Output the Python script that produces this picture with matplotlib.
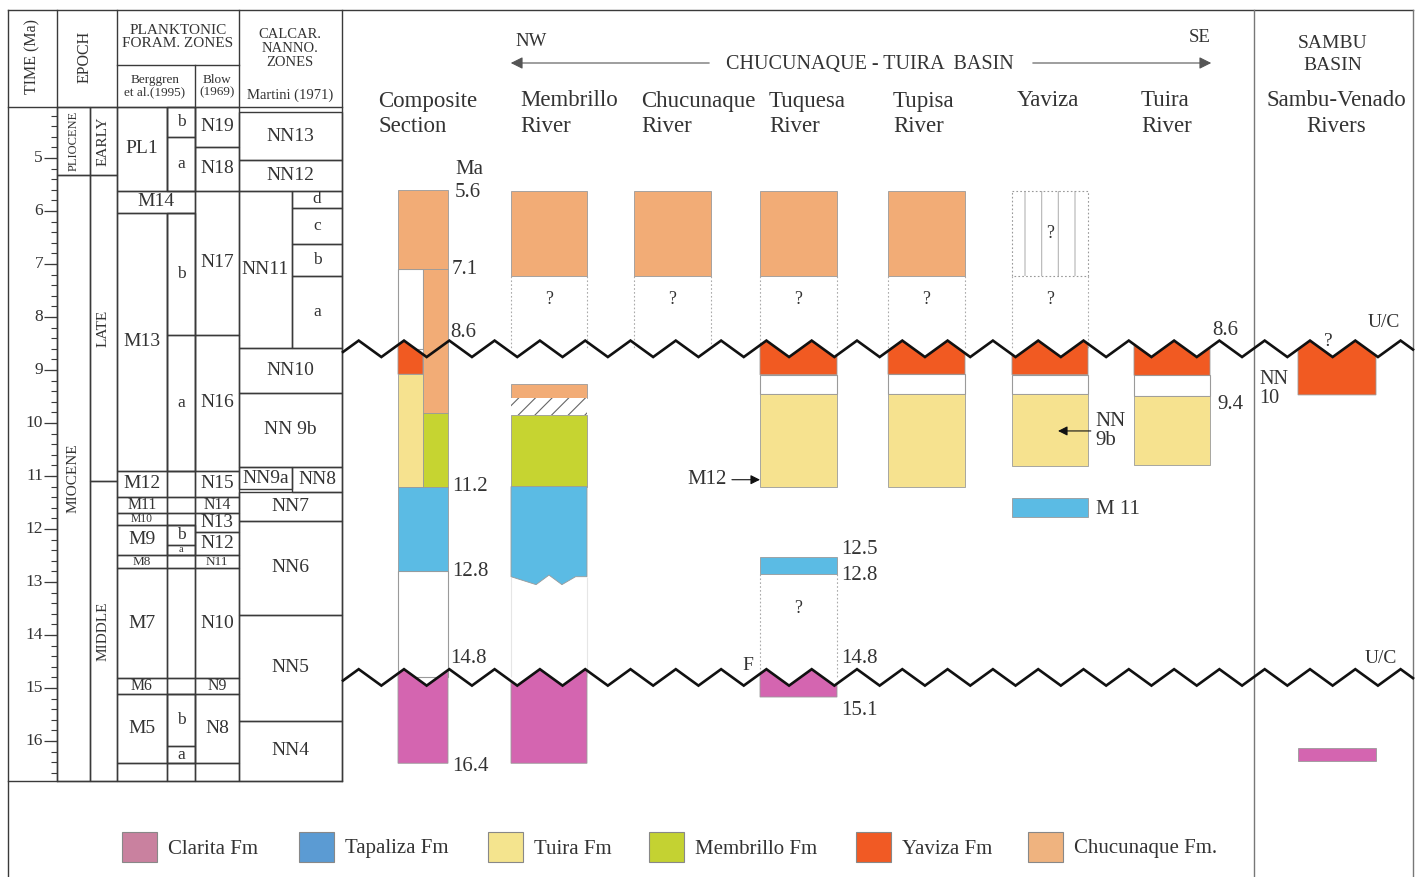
import numpy as np
import matplotlib.pyplot as plt
from matplotlib.patches import Rectangle

plt.rcParams["font.family"] = ["Liberation Serif", "DejaVu Serif"]
plt.rcParams["hatch.linewidth"] = 0.8

FIG_W, FIG_H = 1420, 877
ROW_5MA = 158        # pixel row of 5 Ma on the time scale
PX_PER_MA = 53

TEXT = "#333333"
LINE = "#3a3a3a"
THIN = "#9a9a9a"

# ---------------- left chronostratigraphic table (ages in Ma) ----------------
TIME_LABELS = [5, 6, 7, 8, 9, 10, 11, 12, 13, 14, 15, 16]
TABLE_TOP = 4.04
TABLE_BASE = 16.75

EPOCHS = ["PLIOCENE", "MIOCENE"]
EPOCH_TOP = [4.04, 5.33]
EPOCH_BASE = [5.33, 16.75]

SUBEPOCHS = ["EARLY", "LATE", "MIDDLE"]
SUBEPOCH_TOP = [4.04, 5.33, 11.1]
SUBEPOCH_BASE = [5.33, 11.1, 16.75]

BERGGREN = ["PL1", "M14", "M13", "M12", "M11", "M10", "M9", "M8", "M7", "M6", "M5", ""]
BERGGREN_TOP = [4.04, 5.62, 6.04, 10.9, 11.4, 11.7, 11.92, 12.49, 12.74, 14.81, 15.11, 16.42]
BERGGREN_WIDE = ["M14"]
BERGGREN_SUB = ["b", "a", "b", "a", "b", "a", "b", "a"]
BERGGREN_SUB_TOP = [4.04, 4.6, 6.04, 8.34, 11.92, 12.3, 15.11, 16.09]
BERGGREN_SUB_BASE = [4.6, 5.62, 8.34, 10.9, 12.3, 12.49, 16.09, 16.42]

BLOW = ["N19", "N18", "N17", "N16", "N15", "N14", "N13", "N12", "N11", "N10", "N9", "N8", ""]
BLOW_TOP = [4.04, 4.79, 5.62, 8.34, 10.9, 11.4, 11.7, 12.06, 12.49, 12.74, 14.81, 15.11, 16.42]

NANNO = ["NN13", "NN12", "NN11", "NN10", "NN 9b", "NN9a", "NN8", "NN7", "NN6", "NN5", "NN4"]
NANNO_TOP = [4.13, 5.04, 5.62, 8.58, 9.43, 10.83, 10.83, 11.3, 11.85, 13.62, 15.62]
NANNO_BASE = [5.04, 5.62, 8.58, 9.43, 10.83, 11.25, 11.3, 11.85, 13.62, 15.62, 16.75]
NANNO_PART = ["", "", "left", "", "", "left", "right", "", "", "", ""]
NN11_SUB = ["d", "c", "b", "a"]
NN11_SUB_TOP = [5.62, 5.94, 6.62, 7.23]
NN11_SUB_BASE = [5.94, 6.62, 7.23, 8.58]

# ---------------- stratigraphic sections (formation, top Ma, base Ma[, option]) ----------------
FORMATIONS = ["Clarita", "Tapaliza", "Tuira", "Membrillo", "Yaviza", "Chucunaque"]
LEGEND_LABELS = ["Clarita Fm", "Tapaliza Fm", "Tuira Fm", "Membrillo Fm", "Yaviza Fm", "Chucunaque Fm."]
FM_COLORS = ["#d465b0", "#5bbbe4", "#f6e28f", "#c6d431", "#f15a22", "#f2ac76"]
LEGEND_COLORS = ["#c9819f", "#5b9bd3", "#f4e48e", "#c4d232", "#f15a24", "#efb37f"]

UNCONFORMITIES = [8.6, 14.8]

SECTIONS = ["Composite\nSection", "Membrillo\nRiver", "Chucunaque\nRiver", "Tuquesa\nRiver",
            "Tupisa\nRiver", "Yaviza", "Tuira\nRiver", "Sambu-Venado\nRivers"]

COMPOSITE = [("Chucunaque", 5.6, 7.1), ("gap", 7.1, 8.6, "left"), ("Chucunaque", 7.1, 9.82, "right"),
             ("Yaviza", 8.6, 9.08, "left"), ("Tuira", 9.08, 11.2, "left"),
             ("Membrillo", 9.82, 11.2, "right"), ("Tapaliza", 11.2, 12.8), ("gap", 12.8, 14.8),
             ("Clarita", 14.8, 16.42)]
MEMBRILLO = [("Chucunaque", 5.62, 7.22), ("unknown", 7.22, 8.6), ("Chucunaque", 9.26, 9.52),
             ("hatch", 9.52, 9.85), ("Membrillo", 9.85, 11.2), ("Tapaliza", 11.2, 12.9, "torn"),
             ("faint", 12.9, 14.8), ("Clarita", 14.8, 16.42)]
CHUCUNAQUE = [("Chucunaque", 5.62, 7.22), ("unknown", 7.22, 8.6)]
TUQUESA = [("Chucunaque", 5.62, 7.22), ("unknown", 7.22, 8.6), ("Yaviza", 8.6, 9.09),
           ("gap", 9.09, 9.45), ("Tuira", 9.45, 11.2), ("Tapaliza", 12.53, 12.85),
           ("unknown", 12.85, 14.8), ("Clarita", 14.8, 15.17)]
TUPISA = [("Chucunaque", 5.62, 7.22), ("unknown", 7.22, 8.6), ("Yaviza", 8.6, 9.08),
          ("gap", 9.08, 9.45), ("Tuira", 9.45, 11.2)]
YAVIZA = [("hatched", 5.62, 7.22), ("unknown", 7.22, 8.6), ("Yaviza", 8.6, 9.09),
          ("gap", 9.09, 9.45), ("Tuira", 9.45, 10.82), ("Tapaliza", 11.42, 11.77)]
TUIRA = [("Yaviza", 8.6, 9.1), ("gap", 9.1, 9.49), ("Tuira", 9.49, 10.79)]
SAMBU = [("Yaviza", 8.6, 9.47), ("Clarita", 16.13, 16.38)]
SECTION_UNITS = [COMPOSITE, MEMBRILLO, CHUCUNAQUE, TUQUESA, TUPISA, YAVIZA, TUIRA, SAMBU]

# layout (pixels)
SECTION_LEFT = [398, 511, 634, 760, 888, 1012, 1134, 1298]
SECTION_WIDTH = [50, 76, 77, 77, 77, 76, 76, 78]
HEADER_X = [378, 520, 641, 769, 893, 1017, 1141, 1336]
ZIG_X0, ZIG_PERIOD, ZIG_AMP = 404, 45.3, 0.155


def age_at(px):
    return 5 + (px - ROW_5MA) / PX_PER_MA


fig = plt.figure(figsize=(FIG_W / 100, FIG_H / 100), dpi=100)
lay = fig.add_axes([0, 0, 1, 1])
lay.set_xlim(0, FIG_W)
lay.set_ylim(FIG_H, 0)
lay.axis("off")
ax = fig.add_axes([0, 0, 1, 1])
ax.set_xlim(0, FIG_W)
ax.set_ylim(age_at(FIG_H), age_at(0))
ax.axis("off")
ax.patch.set_alpha(0)


def txt(a, x, y, s, size=13, **kw):
    kw.setdefault("ha", "center")
    kw.setdefault("va", "center")
    a.text(x, y, s, fontsize=size, color=TEXT, **kw)


def cell(x0, x1, top, base, label="", size=14, rot=0, lw=1.0):
    ax.add_patch(Rectangle((x0, top), x1 - x0, base - top, fill=False, ec=LINE, lw=lw, zorder=2))
    if label:
        h = (base - top) * PX_PER_MA * 0.72
        txt(ax, (x0 + x1) / 2, (top + base) / 2, label, size=min(size, max(h, 7)), rotation=rot)


def zigzag(age, x0, x1):
    half = ZIG_PERIOD / 2
    k = np.ceil((x0 - ZIG_X0) / half)
    xs = [x0]
    x = ZIG_X0 + k * half
    while x < x1:
        if x > x0:
            xs.append(x)
        x += half
    xs.append(x1)
    xs = np.array(xs)
    phase = ((xs - ZIG_X0) / ZIG_PERIOD) % 1.0
    d = 2 * np.minimum(phase, 1 - phase)
    return xs, age - ZIG_AMP + 2 * ZIG_AMP * d


# ---------------- frame and header of the table ----------------
lay.plot([8, 1413], [10, 10], color=LINE, lw=1)
for xv, y1 in [(8, 877), (342, 781), (1254, 877), (1413, 877)]:
    lay.plot([xv, xv], [10, y1], color=LINE if xv < 400 else "#777", lw=1)
lay.plot([8, 342], [107, 107], color=LINE, lw=1)
for xv in [57, 117, 239]:
    lay.plot([xv, xv], [10, 107], color=LINE, lw=1)
lay.plot([117, 239], [65, 65], color=LINE, lw=1)
lay.plot([195, 195], [65, 107], color=LINE, lw=1)
txt(lay, 32, 57, "TIME (Ma)", 11.5, rotation=90)
txt(lay, 85, 57, "EPOCH", 11.5, rotation=90)
txt(lay, 178, 37, "PLANKTONIC\nFORAM. ZONES", 11, linespacing=1.05)
txt(lay, 155, 86, "Berggren\net al.(1995)", 9.5, linespacing=1.0)
txt(lay, 217, 86, "Blow\n(1969)", 9.5, linespacing=1.0)
txt(lay, 290, 48, "CALCAR.\nNANNO.\nZONES", 10.5, linespacing=1.1)
txt(lay, 290, 95, "Martini (1971)", 10.5)

# ---------------- time scale ----------------
ax.plot([57, 57], [TABLE_TOP, TABLE_BASE], color=LINE, lw=1)
minor = np.arange(42, 168) / 10
minor = minor[(minor * 10) % 2 == 0]
ax.hlines(minor, 51, 57, color=LINE, lw=0.8)
ax.hlines(TIME_LABELS, 44, 57, color=LINE, lw=0.9)
for t in TIME_LABELS:
    txt(ax, 43, t, str(t), 12.5, ha="right")
ax.plot([8, 342], [TABLE_BASE, TABLE_BASE], color=LINE, lw=1)

# epochs
for name, top, base in zip(EPOCHS, EPOCH_TOP, EPOCH_BASE):
    cell(57, 90, top, base)
    txt(ax, 73.5, (top + base) / 2, name, 9 if name == "PLIOCENE" else 11, rotation=90)
for name, top, base in zip(SUBEPOCHS, SUBEPOCH_TOP, SUBEPOCH_BASE):
    cell(90, 117, top, base)
    txt(ax, 103.5, (top + base) / 2, name, 11, rotation=90)

# Berggren et al. (1995)
for i, name in enumerate(BERGGREN):
    top = BERGGREN_TOP[i]
    base = BERGGREN_TOP[i + 1] if i + 1 < len(BERGGREN) else TABLE_BASE
    if name in BERGGREN_WIDE:
        cell(117, 195, top, base, name)
    else:
        cell(117, 167, top, base, name)
        cell(167, 195, top, base)
for name, top, base in zip(BERGGREN_SUB, BERGGREN_SUB_TOP, BERGGREN_SUB_BASE):
    cell(167, 195, top, base, name, 12.5)

# Blow (1969)
for i, name in enumerate(BLOW):
    top = BLOW_TOP[i]
    base = BLOW_TOP[i + 1] if i + 1 < len(BLOW) else TABLE_BASE
    cell(195, 239, top, base, name)

# Martini (1971)
for name, top, base, part in zip(NANNO, NANNO_TOP, NANNO_BASE, NANNO_PART):
    x0, x1 = {"": (239, 342), "left": (239, 292), "right": (292, 342)}[part]
    cell(x0, x1, top, base, name)
for name, top, base in zip(NN11_SUB, NN11_SUB_TOP, NN11_SUB_BASE):
    cell(292, 342, top, base, name, 12.5)

# ---------------- section headers ----------------
for i, name in enumerate(SECTIONS):
    lines = name.split("\n")
    ha = "center" if i == len(SECTIONS) - 1 else "left"
    for j, line in enumerate(lines):
        txt(lay, HEADER_X[i], 101 + 25 * j, line, 16.5, ha=ha)
txt(lay, 1333, 43, "SAMBU", 14)
txt(lay, 1333, 66, "BASIN", 14)
txt(lay, 531, 41, "NW", 13.5)
txt(lay, 1200, 38, "SE", 13.5)
txt(lay, 870, 64, "CHUCUNAQUE - TUIRA  BASIN", 14.5)
lay.annotate("", xy=(508, 63), xytext=(712, 63),
             arrowprops=dict(arrowstyle="-|>", color="#555", lw=0.8, mutation_scale=18))
lay.annotate("", xy=(1214, 63), xytext=(1030, 63),
             arrowprops=dict(arrowstyle="-|>", color="#555", lw=0.8, mutation_scale=18))


# ---------------- sections ----------------
def draw_unit(left, width, unit):
    fm, top, base = unit[:3]
    opt = unit[3] if len(unit) > 3 else ""
    if opt == "left":
        width = width / 2
    elif opt == "right":
        left, width = left + width / 2, width / 2
    right = left + width
    if fm in FORMATIONS:
        color = FM_COLORS[FORMATIONS.index(fm)]
        if top in UNCONFORMITIES:
            xs, ys = zigzag(top, left, right)
            ax.fill(np.r_[xs, right, left], np.r_[ys, base, base], fc=color, ec=THIN, lw=0.6, zorder=3)
        elif opt == "torn":
            xs = left + width * np.array([1, 0.85, 0.67, 0.5, 0.33, 0])
            ys = base + np.array([0, 0, 0.15, -0.03, 0.15, 0])
            ax.fill(np.r_[left, right, xs], np.r_[top, top, ys], fc=color, ec=THIN, lw=0.6, zorder=3)
        else:
            ax.add_patch(Rectangle((left, top), width, base - top, fc=color, ec=THIN, lw=0.6, zorder=3))
    elif fm == "gap":
        ax.add_patch(Rectangle((left, top), width, base - top, fc="white", ec=THIN, lw=0.8, zorder=2))
    elif fm == "hatch":
        ax.add_patch(Rectangle((left, top), width, base - top, fc="white", ec="#666", lw=0,
                               hatch="//", zorder=3))
    elif fm == "hatched":
        ax.add_patch(Rectangle((left, top), width, base - top, fill=False, ec="#b5b5b5", lw=0,
                               hatch="|", zorder=3))
        ax.add_patch(Rectangle((left, top), width, base - top, fill=False, ec="#999",
                               lw=0.8, ls=(0, (1.5, 2)), zorder=3))
        txt(ax, left + width / 2, (top + base) / 2, "?", 13)
    elif fm == "unknown":
        ax.vlines([left, right], top, base, colors="#aaa", lw=0.8, linestyles=[(0, (1.5, 2))], zorder=2)
        frac = 0.33 if base in UNCONFORMITIES else 0.5
        txt(ax, left + width / 2, top + frac * (base - top), "?", 13)
    elif fm == "faint":
        ax.vlines([left, right], top, base, colors="#e6e6e6", lw=0.8, zorder=2)


for units, left, width in zip(SECTION_UNITS, SECTION_LEFT, SECTION_WIDTH):
    for unit in units:
        draw_unit(left, width, unit)

for age in UNCONFORMITIES:
    xs, ys = zigzag(age, 343, 1413)
    ax.plot(xs, ys, color="#111", lw=1.9, zorder=6, solid_joinstyle="miter")

# age labels and notes
txt(ax, 455, age_at(170), "Ma", 15, ha="left")
for s, x, t in [("5.6", 455, 5.65), ("7.1", 452, 7.1), ("11.2", 452, 11.2), ("12.8", 452, 12.8),
                ("16.4", 452, 16.48), ("12.8", 841, 12.87), ("15.1", 841, 15.42), ("9.4", 1217, 9.66)]:
    txt(ax, x, t, s, 15, ha="left")
for s, x, t in [("8.6", 450, 8.3), ("14.8", 450, 14.44), ("12.5", 841, 12.38), ("14.8", 841, 14.44),
                ("8.6", 1212, 8.25)]:
    txt(ax, x, t, s, 15, ha="left")
txt(ax, 1368, 8.1, "U/C", 14, ha="left")
txt(ax, 1365, 14.44, "U/C", 14, ha="left")
txt(ax, 742, 14.58, "F", 14, ha="left")
txt(ax, 1328, 8.47, "?", 14)
txt(ax, 1259, 9.35, "NN\n10", 14.5, ha="left", linespacing=1.0)
txt(ax, 1096, 11.64, "M 11", 15, ha="left")
ax.annotate("M12", xy=(760, 11.07), xytext=(687, 11.07), fontsize=15, color=TEXT,
            ha="left", va="center",
            arrowprops=dict(arrowstyle="-|>", color="#111", lw=0.8, shrinkA=2, shrinkB=0,
                            mutation_scale=14), zorder=7)
ax.annotate("NN\n9b", xy=(1058, 10.15), xytext=(1095, 10.15), fontsize=15, color=TEXT,
            ha="left", va="center", linespacing=1.0,
            arrowprops=dict(arrowstyle="-|>", color="#111", lw=0.8, shrinkA=1, shrinkB=0,
                            mutation_scale=14), zorder=7)

# ---------------- legend ----------------
LEG_X = [122, 299, 488, 649, 856, 1028]
for x, lab, col in zip(LEG_X, LEGEND_LABELS, LEGEND_COLORS):
    lay.add_patch(Rectangle((x, 832), 35, 30, fc=col, ec="#888", lw=0.8))
    txt(lay, x + 46, 849, lab, 15, ha="left")

fig.savefig("out.png", dpi=100)
